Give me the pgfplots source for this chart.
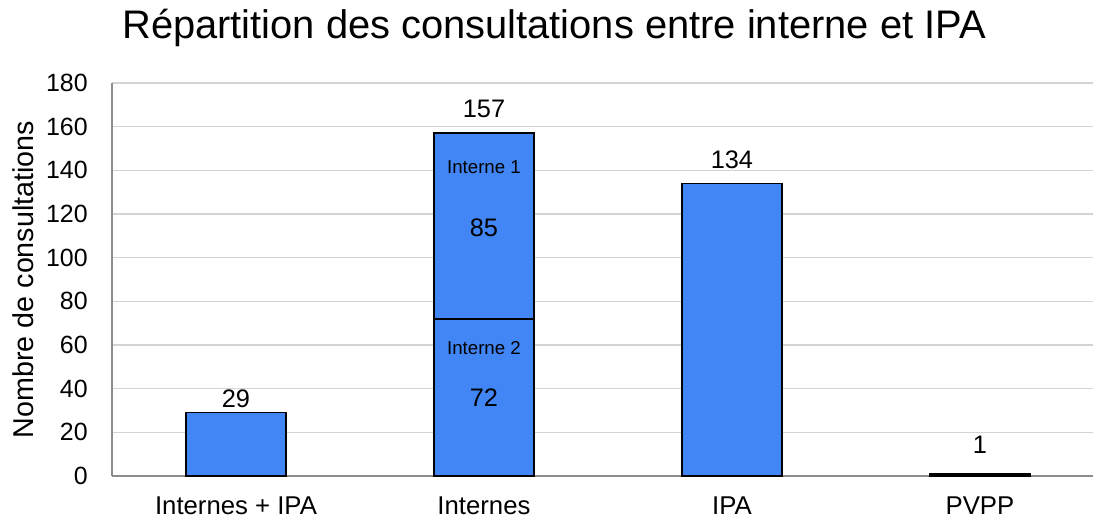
\documentclass[border=0pt]{standalone}
\usepackage{pgfplots}
\pgfplotsset{compat=1.18}
\usepackage{fontspec}
\setmainfont{Liberation Sans}
\definecolor{barblue}{RGB}{66,133,244}
\definecolor{gridgray}{RGB}{212,212,212}
\definecolor{axisgray}{RGB}{140,140,140}
\begin{document}
\begin{tikzpicture}
\useasboundingbox (-84pt,-33pt) rectangle (737.25pt,357pt);
\begin{axis}[
  at={(0,0)}, anchor=south west,
  scale only axis, width=735.75pt, height=294.75pt,
  xmin=-0.5, xmax=3.456, ymin=0, ymax=180,
  ytick={0,20,...,180},
  xtick={0,1,2,3},
  xticklabels={Internes + IPA, Internes, IPA, PVPP},
  /pgf/number format/assume math mode=true,
  axis x line*=bottom, axis y line*=left,
  axis line style={draw=axisgray, line width=1pt},
  major tick length=0pt,
  ymajorgrids, grid style={draw=gridgray, line width=1pt},
  xticklabel style={font=\fontsize{19.3}{21}\selectfont, anchor=base, yshift=-29.25pt},
  yticklabel style={font=\fontsize{18.7}{21}\selectfont, anchor=east, inner sep=0pt, xshift=-18pt},
  ylabel={Nombre de consultations},
  ylabel style={font=\fontsize{21.5}{23}\selectfont, at={(axis description cs:-0.0907,0.5)}, anchor=center},
  title={Répartition des consultations entre interne et IPA},
  title style={font=\fontsize{29.9}{31}\selectfont, at={(axis description cs:0.4506,1.109)}, anchor=base, yshift=-5pt},
  ybar, bar width=0.403, bar shift=0pt,
  clip=false,
]
\addplot[fill=barblue, draw=black, line width=1.2pt] coordinates {(0,29) (1,157) (2,134) (3,1)};
\addplot[fill=barblue, draw=black, line width=1.2pt] coordinates {(1,72)};
\node[font=\fontsize{19}{21}\selectfont] at (axis cs:0,35.3) {29};
\node[font=\fontsize{19}{21}\selectfont] at (axis cs:1,168.1) {157};
\node[font=\fontsize{19}{21}\selectfont] at (axis cs:2,144.7) {134};
\node[font=\fontsize{19}{21}\selectfont] at (axis cs:3,14.2) {1};
\node[font=\fontsize{14}{16}\selectfont] at (axis cs:1,141.5) {Interne 1};
\node[font=\fontsize{19}{21}\selectfont] at (axis cs:1,113.6) {85};
\node[font=\fontsize{14}{16}\selectfont] at (axis cs:1,58.6) {Interne 2};
\node[font=\fontsize{19}{21}\selectfont] at (axis cs:1,35.7) {72};
\end{axis}
\end{tikzpicture}
\end{document}
